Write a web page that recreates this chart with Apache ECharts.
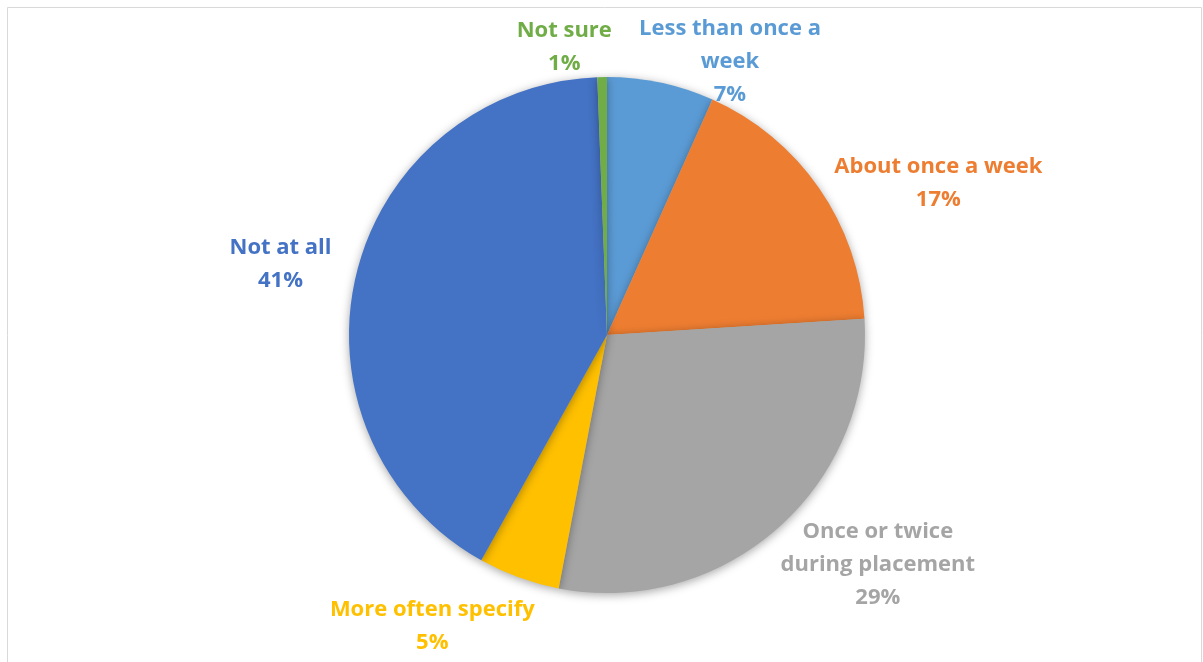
<!DOCTYPE html>
<html><head><meta charset="utf-8">
<script src="https://cdn.jsdelivr.net/npm/echarts@6/dist/echarts.min.js"></script>
<style>html,body{margin:0;padding:0;background:#fff}#c{width:1203px;height:662px}</style>
</head><body><div id="c"></div>
<script>
const categories = ["Less than once a week","About once a week","Once or twice during placement","More often specify","Not at all","Not sure"];
const labelTexts = ["Less than once a\nweek","About once a week","Once or twice\nduring placement","More often specify","Not at all","Not sure"];
const values = [6.7, 17.3, 29.0, 5.1, 41.3, 0.6];
const colors = ["#5B9BD5","#ED7D31","#A5A5A5","#FFC000","#4472C4","#70AD47"];

// label nudges (style only)
const labelNudge = [[-30,-6],[-2,4],[-12,25],[26,35],[-5,-7],[15,-15]];

const chart = echarts.init(document.getElementById('c'));
chart.setOption({
  animation:false,
  graphic:[{type:'rect',shape:{x:7.5,y:7.5,width:1194,height:700},style:{fill:null,stroke:'#d9d9d9',lineWidth:1},silent:true,z:-10}],
  series:[{
    type:'pie',
    center:[607,335],
    radius:[0,258],
    startAngle:90,
    clockwise:true,
    avoidLabelOverlap:false,
    data: categories.map((c,i)=>({name:c,value:values[i],itemStyle:{color:colors[i]},
      label:{color:colors[i]}})),
    itemStyle:{shadowBlur:10,shadowColor:'rgba(0,0,0,0.35)',shadowOffsetY:2},
    label:{
      show:true,position:'outside',
      formatter:p=>labelTexts[p.dataIndex]+'\n'+Math.round(p.value)+'%',
      fontFamily:'"Open Sans", sans-serif',fontWeight:'bold',fontSize:22,lineHeight:33,align:'center'
    },
    labelLine:{show:false,length:15,length2:0},
    labelLayout:function(p){
      const r=p.labelRect, n=labelNudge[p.dataIndex];
      return {x:r.x+r.width/2+n[0], y:r.y+r.height/2+n[1], align:'center', verticalAlign:'middle'};
    }
  }]
});
</script></body></html>
